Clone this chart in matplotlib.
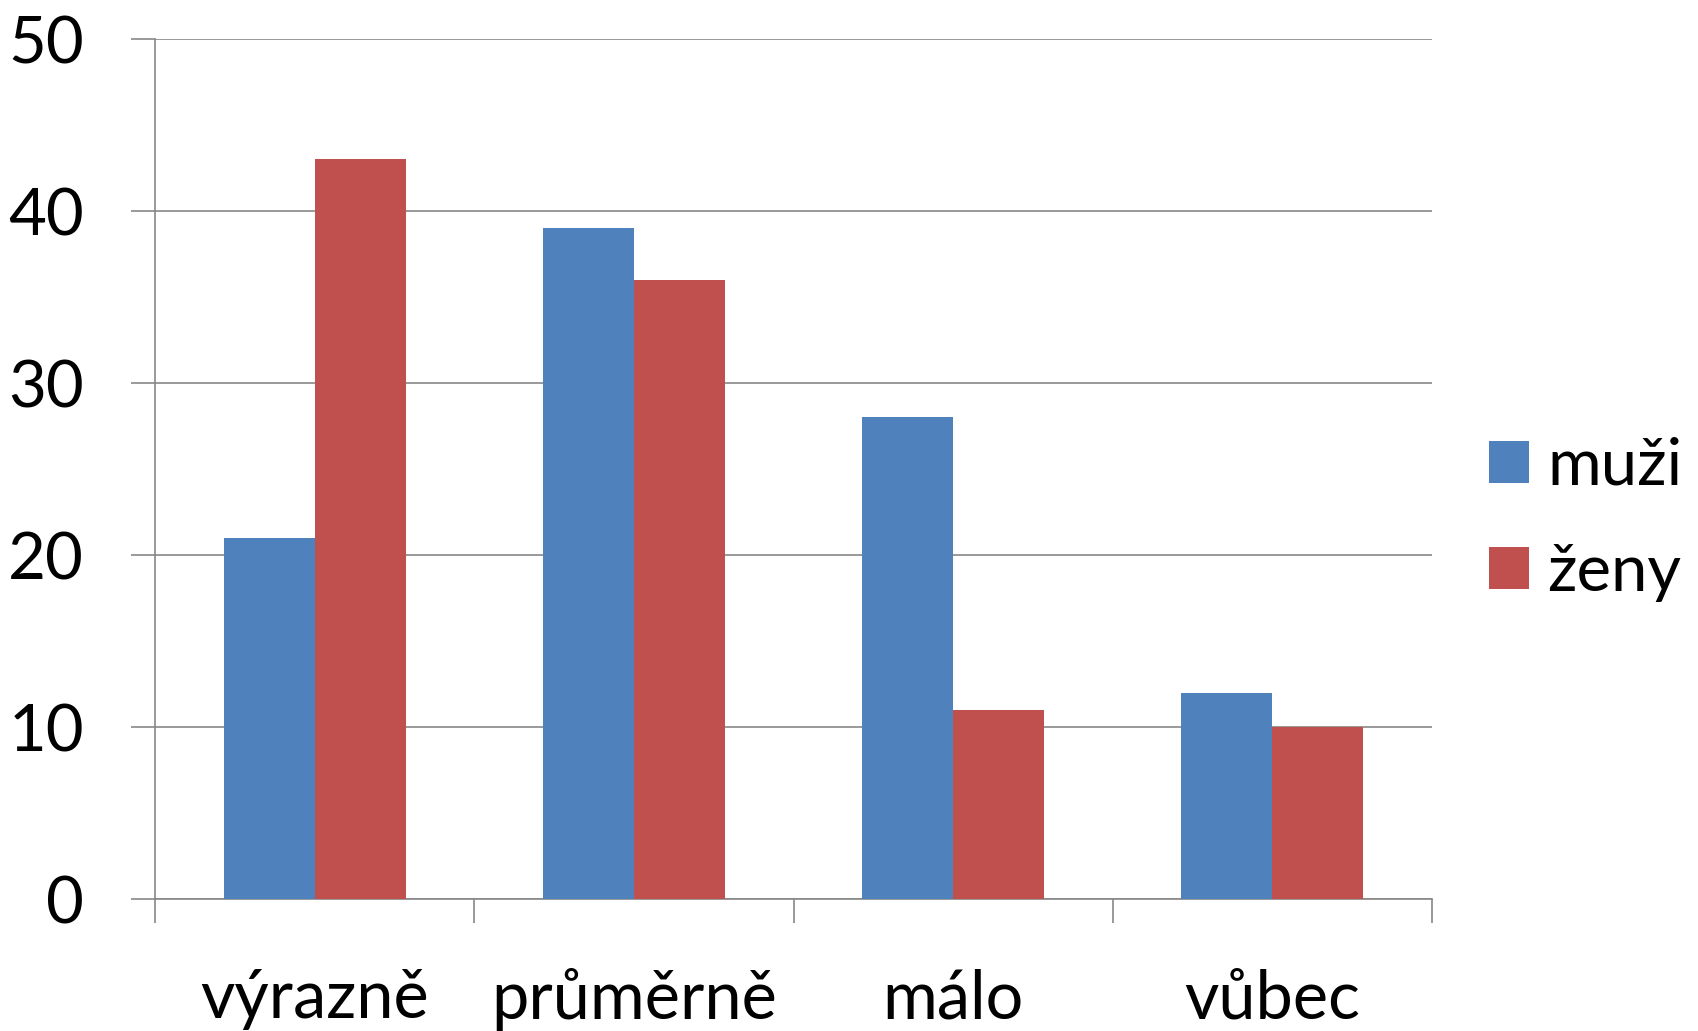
import matplotlib
matplotlib.use("Agg")
import matplotlib.pyplot as plt
import numpy as np

categories = ["výrazně", "průměrně", "málo", "vůbec"]
muzi = [21, 39, 28, 12]
zeny = [43, 36, 11, 10]
series_names = ["muži", "ženy"]
yticks = [0, 10, 20, 30, 40, 50]

plt.rcParams["font.family"] = ["Lato", "DejaVu Sans"]

blue = "#4F81BD"
red = "#C0504D"
grey = "#878787"

fig = plt.figure(figsize=(16.98, 10.31), dpi=100)
ax = fig.add_axes([155 / 1698, 1 - 899 / 1031, (1432 - 155) / 1698, (899 - 39) / 1031])

x = np.arange(len(categories))
w = 0.285
b1 = ax.bar(x - w / 2, muzi, w, color=blue, label=series_names[0], zorder=3)
b2 = ax.bar(x + w / 2, zeny, w, color=red, label=series_names[1], zorder=3)

ax.set_xlim(-0.5, len(categories) - 0.5)
ax.set_ylim(0, 50)

for s in ["top", "right"]:
    ax.spines[s].set_visible(False)
for s in ["left", "bottom"]:
    ax.spines[s].set_color(grey)
    ax.spines[s].set_linewidth(1.2)

ax.set_yticks(yticks)
ax.set_yticklabels([str(v) for v in yticks])
ax.yaxis.grid(True, color=grey, linewidth=1.2, zorder=0)
ax.tick_params(axis="y", length=17, width=1.2, color=grey, labelsize=47, pad=34)

# category boundaries as ticks, names centred on minor ticks
ax.set_xticks(np.arange(-0.5, len(categories), 1.0))
ax.set_xticklabels([])
ax.set_xticks(x, minor=True)
ax.set_xticklabels(categories, minor=True)
ax.tick_params(axis="x", which="major", length=17, width=1.2, color=grey)
ax.tick_params(axis="x", which="minor", length=0, labelsize=48, pad=50)

leg = fig.legend(handles=[b1, b2], loc="upper left", bbox_to_anchor=(1456 / 1698, 1 - 404 / 1031),
                 frameon=False, fontsize=47, handlelength=0.62, handleheight=0.62,
                 handletextpad=0.28, labelspacing=0.72, borderpad=0)

fig.savefig("out.png", dpi=100, facecolor="white")
